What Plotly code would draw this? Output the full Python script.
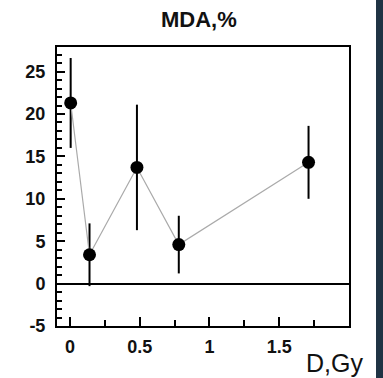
import plotly.graph_objects as go

dose = [0.005, 0.14, 0.48, 0.78, 1.71]
mda = [21.3, 3.4, 13.7, 4.6, 14.3]
err = [5.3, 3.7, 7.4, 3.4, 4.3]
xticks = [0, 0.5, 1, 1.5]
xticklabels = ["0", "0.5", "1", "1.5"]
yticks = [-5, 0, 5, 10, 15, 20, 25]

fig = go.Figure()
fig.add_trace(go.Scatter(
    x=dose, y=mda, mode="lines+markers",
    line=dict(color="#aaaaaa", width=1.2),
    marker=dict(color="black", size=13),
    error_y=dict(type="data", array=err, visible=True, color="black", thickness=2, width=0),
    showlegend=False,
))

axfont = dict(family="Liberation Sans", size=18, color="#111111")
fig.update_layout(
    width=383, height=378,
    margin=dict(l=57, r=34, t=47, b=52),
    paper_bgcolor="white", plot_bgcolor="white",
    font=dict(family="Liberation Sans"),
    xaxis=dict(range=[-0.093, 2.0], tickvals=xticks, ticktext=[f"<b>{t}</b>" for t in xticklabels],
               ticks="inside", ticklen=9, tickwidth=2, tickcolor="black",
               minor=dict(dtick=0.25, tick0=0, ticks="inside", ticklen=6, tickwidth=2, tickcolor="black"),
               showline=True, linecolor="black", linewidth=2, mirror=True,
               showgrid=False, zeroline=False, tickfont=axfont, ticklabelstandoff=3),
    yaxis=dict(range=[-5, 27.9], tickvals=yticks, ticktext=[f"<b>{t}</b>" for t in yticks],
               ticks="inside", ticklen=8, tickwidth=2, tickcolor="black",
               minor=dict(dtick=1, tick0=0, ticks="inside", ticklen=5, tickwidth=2, tickcolor="black"),
               showline=True, linecolor="black", linewidth=2, mirror=True,
               showgrid=False, zeroline=True, zerolinecolor="black", zerolinewidth=2,
               tickfont=axfont, ticklabelstandoff=6),
    shapes=[dict(type="rect", xref="paper", yref="paper", x0=1.0925, x1=1.2, y0=-0.3, y1=1.3,
                 fillcolor="#1f3344", line=dict(width=0), layer="above")],
    annotations=[
        dict(text="<b>MDA,%</b>", xref="paper", yref="paper", x=0.488, y=1.0, yshift=28,
             showarrow=False, font=dict(family="Liberation Sans", size=22, color="#111111"),
             xanchor="center", yanchor="middle"),
        dict(text="D,Gy", xref="paper", yref="paper", x=1.055, y=0, yshift=-37,
             showarrow=False, font=dict(family="Liberation Sans", size=25, color="#111111"),
             xanchor="right", yanchor="middle"),
    ],
)

fig.write_html("out.html")
